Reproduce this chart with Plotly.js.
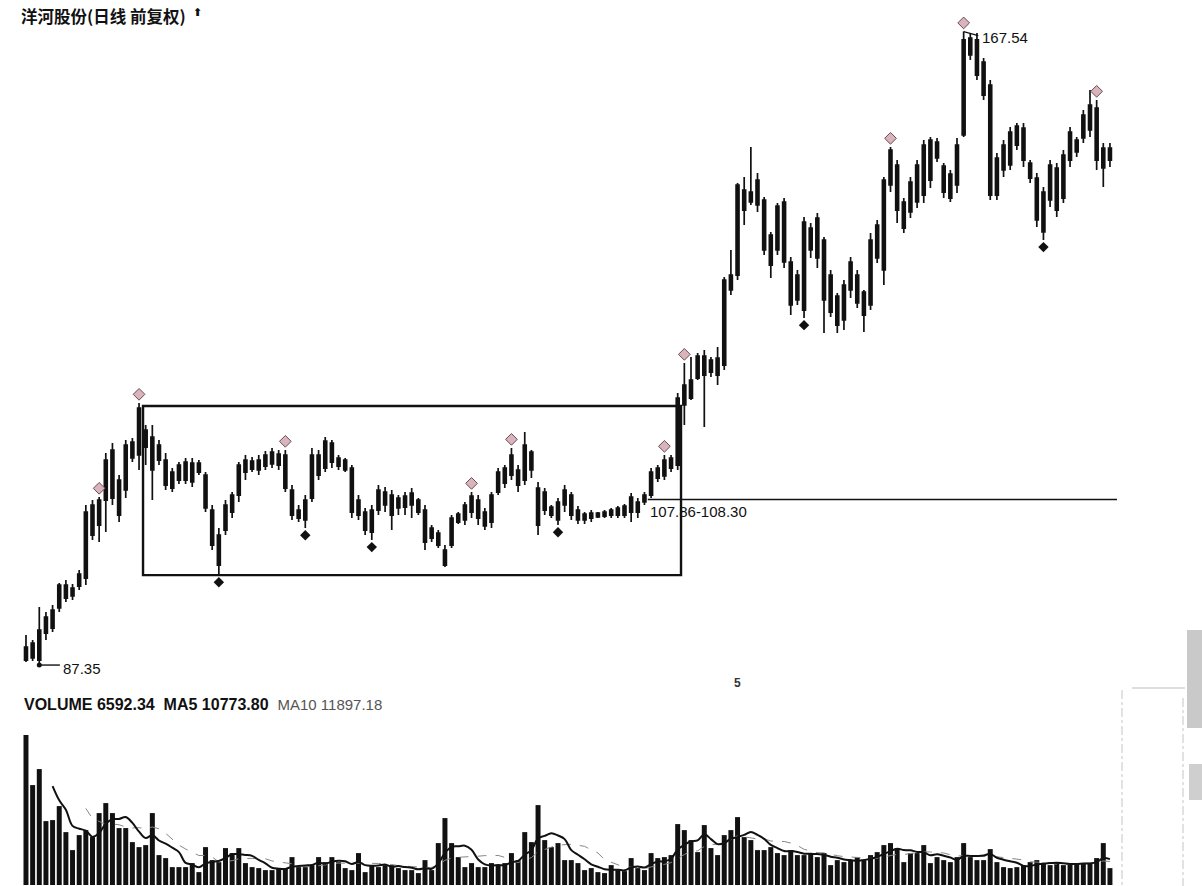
<!DOCTYPE html>
<html><head><meta charset="utf-8">
<script src="https://cdn.plot.ly/plotly-3.0.1.min.js"></script>
<style>html,body{margin:0;padding:0;background:#fff}#chart{width:1202px;height:886px}</style>
</head><body><div id="chart"></div>
<script>
const opens = [87.98,90.14,87.98,91.40,92.03,94.57,97.48,96.09,97.35,98.36,
107.61,105.07,108.24,114.57,106.34,109.51,115.58,113.94,117.10,116.22,
115.20,113.30,109.76,110.77,113.05,110.52,112.92,111.40,106.97,103.81,
104.44,106.72,108.87,111.78,113.18,112.04,112.54,114.32,112.67,113.94,
109.51,105.96,105.71,108.49,113.94,112.29,115.46,113.56,113.30,112.29,
108.24,106.72,104.19,106.97,109.25,106.34,107.23,108.75,107.61,108.24,
106.97,103.43,104.06,100.01,102.54,106.47,105.71,106.72,108.24,104.95,
105.45,109.25,110.39,111.40,112.04,110.77,114.32,109.76,106.97,107.35,
107.99,107.61,108.87,105.71,106.47,105.96,106.09,106.72,106.34,106.34,
107.48,106.72,107.99,107.99,108.87,111.02,113.30,112.29,112.67,120.27,
123.43,123.68,126.47,124.44,126.22,125.33,136.72,136.72,144.95,145.97,
148.75,146.22,141.79,139.89,145.97,138.37,133.56,143.43,139.89,143.94,
141.16,136.72,130.39,131.03,134.83,136.72,131.66,132.93,138.88,137.36,
148.12,150.65,145.97,144.70,145.97,153.18,148.75,153.56,150.52,149.51,
148.12,154.45,166.73,162.04,163.69,160.78,146.85,150.02,150.65,155.59,
155.33,150.90,149.00,147.23,146.22,150.27,146.47,151.28,153.82,154.07,
155.08,157.87,152.80,151.28];
const highs = [91.15,90.52,94.69,94.06,94.95,97.73,98.11,97.61,99.38,107.61,
108.24,108.62,114.19,115.46,111.40,115.84,116.09,120.52,117.73,117.73,
115.84,114.19,112.29,113.05,113.56,113.56,113.30,111.78,107.61,104.69,
108.24,109.25,113.05,113.94,113.68,113.94,114.44,114.82,114.57,114.57,
110.14,107.61,108.87,114.82,114.57,116.22,115.84,113.94,113.56,112.67,
108.87,107.23,107.61,110.14,109.89,109.51,108.87,109.25,109.76,108.49,
107.61,105.07,104.44,102.54,106.34,106.72,107.99,109.25,108.87,107.23,
109.25,112.29,112.67,114.82,112.67,116.85,114.57,110.52,109.76,107.61,
108.49,110.14,109.25,107.48,106.72,106.97,106.72,106.97,107.23,107.48,
107.73,109.13,108.49,109.25,112.29,112.67,113.94,113.94,121.79,125.58,
126.34,126.85,127.23,126.34,127.61,136.47,139.89,148.37,149.13,152.93,
149.64,146.60,142.17,145.84,146.47,139.00,137.36,144.07,143.31,144.57,
141.54,137.36,134.45,136.09,139.00,137.36,134.83,142.04,143.69,149.13,
152.93,151.28,146.47,149.13,151.28,153.82,154.20,154.07,150.90,150.02,
154.07,167.54,167.36,167.36,164.20,161.41,152.17,153.82,155.46,155.97,
155.97,151.28,149.64,147.87,151.28,150.90,152.55,155.46,154.20,157.61,
160.15,158.88,153.44,153.44];
const lows = [87.73,87.86,87.35,90.52,91.53,94.06,95.33,95.58,96.85,97.48,
103.18,102.92,104.19,107.61,105.45,108.49,113.05,112.04,112.67,108.24,
112.67,109.51,109.25,110.27,110.27,109.89,111.40,106.72,101.91,98.74,
103.81,105.96,107.99,110.77,111.78,111.40,112.04,112.29,112.04,109.25,
105.71,105.45,104.69,107.99,110.77,111.78,112.29,112.04,111.78,105.96,
105.71,103.81,103.18,106.34,106.72,104.44,106.34,106.34,105.96,106.34,
101.91,102.92,102.16,99.76,102.16,105.20,105.07,105.96,105.07,104.44,
104.69,108.87,109.76,110.77,109.25,110.14,111.02,103.81,106.34,105.96,
105.07,106.72,105.71,105.20,105.20,105.45,105.96,105.96,105.96,105.96,
105.96,105.45,105.96,107.61,108.49,110.52,110.77,111.78,112.04,117.73,
120.89,123.43,117.48,123.81,122.80,124.70,134.19,136.09,143.05,145.59,
144.70,139.26,136.34,139.26,137.61,131.66,132.93,131.28,138.88,137.61,
129.38,131.41,129.38,129.76,133.81,132.55,129.51,132.29,138.24,135.46,
147.23,143.31,142.04,143.94,145.21,145.84,147.74,151.03,146.47,145.97,
147.11,154.20,163.94,161.41,158.88,146.22,146.22,149.13,150.02,152.55,
150.40,148.37,142.80,141.16,145.33,144.07,145.84,150.40,151.66,153.44,
154.20,150.02,147.87,150.40];
const closes = [89.63,88.24,91.78,93.43,94.31,97.48,95.83,97.10,98.87,106.72,
103.81,108.24,113.30,108.49,110.77,115.20,113.56,119.89,114.95,112.04,
113.30,110.14,111.78,112.67,110.77,112.92,111.78,107.23,102.54,100.01,
107.61,108.87,112.67,113.30,112.16,113.30,113.94,112.80,114.06,109.76,
106.34,106.97,108.24,113.94,111.40,115.71,113.05,112.54,112.04,106.72,
106.34,104.44,106.97,109.51,107.61,108.87,108.49,107.35,109.13,106.72,
102.92,104.69,102.54,101.91,105.96,105.45,107.61,108.75,105.96,106.72,
108.87,111.78,112.29,113.94,110.14,115.20,112.04,105.07,109.25,106.34,
105.71,109.51,106.34,106.97,105.71,106.59,106.59,106.21,106.97,107.23,
106.34,108.62,106.72,108.87,111.78,112.29,111.28,113.56,121.15,122.80,
121.15,126.47,124.06,125.96,124.06,136.09,134.83,148.12,147.49,147.23,
145.59,139.89,137.99,145.46,138.37,132.93,136.72,132.29,142.67,138.88,
133.56,132.04,134.07,135.46,138.37,133.18,134.57,141.16,143.05,148.75,
152.55,144.95,142.67,148.50,150.65,146.85,153.82,151.54,147.23,146.47,
153.18,166.48,164.58,166.48,159.51,146.85,151.54,153.18,154.83,153.18,
151.28,149.00,143.69,142.17,150.65,144.95,151.92,154.83,152.30,156.98,
158.25,151.28,150.27,152.80];
const volumes = [58200,38800,45010,24830,25220,30650,20560,13580,19400,21340,
18620,27940,31820,27940,22120,22120,16680,14740,15520,27940,
11640,10480,6980,6980,6980,8540,5040,14740,9700,8920,
14360,12420,14360,8540,6980,6600,5820,5820,6600,6600,
10860,6980,6980,7760,10860,8920,10860,8920,6600,5820,
12420,5040,7760,6980,7760,7760,6600,5820,5820,4660,
9700,5820,16300,26000,16300,10860,6980,8540,6980,6980,
8540,7760,8540,12420,9700,20560,16680,31040,17460,14740,
16300,9700,9700,8540,5820,6600,5040,4660,7760,5820,
5430,10480,6600,5820,12420,10480,10860,11640,23670,21340,
17460,12800,23280,14360,11640,19400,21340,26380,18620,17460,
13580,13580,14740,12420,11640,13580,11640,11640,12420,10860,
12420,7760,9700,8920,9700,10860,9700,11640,12800,15520,
16300,14360,8920,12420,12420,15520,8540,10860,9700,8920,
10860,16300,10860,9700,9700,13970,8920,6980,6600,6980,
7760,8920,9700,8540,7760,8540,7760,8540,8540,8540,
8540,10480,16300,6592.34];

const peakIdx = [11,17,39,67,73,96,99,130,141,161];
const troughIdx = [29,42,52,80,117,153];
const lowMark = {idx: 2, value: 87.35, text: "87.35"};
const highMark = {idx: 141, value: 167.54, text: "167.54"};
const breakLevel = 108.30;
const breakText = "107.86-108.30";
const boxLow = 98.74, boxHigh = 120.14;
const boxStart = 17.6, boxEnd = 98.5;
const titleText = "洋河股份(日线 前复权)";
const volText = "VOLUME 6592.34  MA5 10773.80  ";
const ma10Text = "MA10 11897.18";

const idx = opens.map((_, i) => i);
function ma(arr, n) {
  return arr.map((_, i) => {
    if (i < n - 1) return null;
    let s = 0; for (let k = i - n + 1; k <= i; k++) s += arr[k];
    return s / n;
  });
}
const ma5 = ma(volumes, 5), ma10 = ma(volumes, 10);

const XMAX = 164.06;
const ink = '#111';
const traces = [
  {type: 'candlestick', x: idx, open: opens, high: highs, low: lows, close: closes,
   xaxis: 'x', yaxis: 'y', whiskerwidth: 0, hoverinfo: 'skip',
   increasing: {line: {color: ink, width: 1.7}, fillcolor: ink},
   decreasing: {line: {color: ink, width: 1.7}, fillcolor: ink}},
  {type: 'bar', x: idx, y: volumes, xaxis: 'x', yaxis: 'y2', hoverinfo: 'skip',
   marker: {color: ink, line: {width: 0}}},
  {type: 'scatter', mode: 'lines', x: idx, y: ma10, xaxis: 'x', yaxis: 'y2', hoverinfo: 'skip',
   line: {color: '#888', width: 1, dash: 'dash'}},
  {type: 'scatter', mode: 'lines', x: idx, y: ma5, xaxis: 'x', yaxis: 'y2', hoverinfo: 'skip',
   line: {color: ink, width: 2, shape: 'spline'}},
  {type: 'scatter', mode: 'markers', x: peakIdx, y: peakIdx.map(i => highs[i] + 1.1),
   xaxis: 'x', yaxis: 'y', hoverinfo: 'skip',
   marker: {symbol: 'diamond', size: 9, color: '#d9b4bc', line: {color: '#6b4a52', width: 1}}},
  {type: 'scatter', mode: 'markers', x: troughIdx, y: troughIdx.map(i => lows[i] - 0.9),
   xaxis: 'x', yaxis: 'y', hoverinfo: 'skip',
   marker: {symbol: 'diamond', size: 8, color: ink}},
  {type: 'scatter', mode: 'markers', x: [lowMark.idx], y: [lowMark.value],
   xaxis: 'x', yaxis: 'y', hoverinfo: 'skip', marker: {symbol: 'circle', size: 5, color: ink}}
];

function px(x) { return (x - 22) / 1095; }
function py(y) { return 1 - y / 886; }

const shapes = [
  {type: 'rect', xref: 'x', yref: 'y', x0: boxStart, x1: boxEnd, y0: boxLow, y1: boxHigh,
   line: {color: ink, width: 2.4}},
  {type: 'line', xref: 'x', yref: 'y', x0: 93.5, x1: XMAX, y0: breakLevel, y1: breakLevel,
   line: {color: ink, width: 1.6}},
  {type: 'line', xref: 'x', yref: 'y', x0: lowMark.idx, x1: lowMark.idx + 3.1, y0: lowMark.value, y1: lowMark.value,
   line: {color: ink, width: 1.4}},
  {type: 'line', xref: 'x', yref: 'y', x0: highMark.idx, x1: highMark.idx + 2.2, y0: highMark.value, y1: highMark.value - 0.5,
   line: {color: ink, width: 1.3}},
  {type: 'line', xref: 'paper', yref: 'paper', x0: px(1122), x1: px(1122), y0: py(690), y1: py(886),
   line: {color: '#c4c4c4', width: 1, dash: 'dashdot'}},
  {type: 'line', xref: 'paper', yref: 'paper', x0: px(1132), x1: px(1185), y0: py(688), y1: py(688),
   line: {color: '#bdbdbd', width: 1}},
  {type: 'line', xref: 'paper', yref: 'paper', x0: px(1183), x1: px(1183), y0: py(698), y1: py(886),
   line: {color: '#c4c4c4', width: 1, dash: 'dashdot'}},
  {type: 'rect', xref: 'paper', yref: 'paper', x0: px(1187), x1: px(1202), y0: py(728), y1: py(630),
   fillcolor: '#c9c9c9', line: {width: 0}},
  {type: 'rect', xref: 'paper', yref: 'paper', x0: px(1189), x1: px(1202), y0: py(800), y1: py(764),
   fillcolor: '#cfcfcf', line: {width: 0}}
];

const numFont = {family: 'Liberation Sans, Arial, sans-serif', size: 15, color: ink};
const annotations = [
  {xref: 'paper', yref: 'paper', x: px(19), y: py(16), xanchor: 'left', yanchor: 'middle', showarrow: false,
   text: '<b>' + titleText + '</b>', font: {family: 'Noto Sans CJK SC, sans-serif', size: 16.5, color: ink}},
  {xref: 'paper', yref: 'paper', x: px(197), y: py(12), xanchor: 'center', yanchor: 'middle', showarrow: false,
   text: '<b>⬆</b>', font: {family: 'DejaVu Sans, sans-serif', size: 11, color: ink}},
  {xref: 'x', yref: 'y', x: lowMark.idx + 3.2, y: lowMark.value - 0.4, xanchor: 'left', yanchor: 'middle', showarrow: false,
   text: lowMark.text, font: numFont},
  {xref: 'x', yref: 'y', x: highMark.idx + 2.4, y: highMark.value - 0.8, xanchor: 'left', yanchor: 'middle', showarrow: false,
   text: highMark.text, font: numFont},
  {xref: 'x', yref: 'y', x: 93.5, y: 106.85, xanchor: 'left', yanchor: 'middle', showarrow: false,
   text: breakText, font: numFont},
  {xref: 'paper', yref: 'paper', x: px(737), y: py(683), xanchor: 'center', yanchor: 'middle', showarrow: false,
   text: '<b>5</b>', font: {family: 'Liberation Sans, Arial, sans-serif', size: 12, color: '#333'}},
  {xref: 'paper', yref: 'paper', x: px(22), y: py(704), xanchor: 'left', yanchor: 'middle', showarrow: false,
   text: '<b>' + volText + '</b><span style="color:#555;font-size:15px">' + ma10Text + '</span>',
   font: {family: 'Liberation Sans, Arial, sans-serif', size: 16, color: ink}}
];

const layout = {
  width: 1202, height: 886, margin: {l: 22, r: 85, t: 0, b: 0, pad: 0},
  paper_bgcolor: '#fff', plot_bgcolor: '#fff', showlegend: false, hovermode: false,
  boxgap: 0.38, bargap: 0.25,
  xaxis: {range: [-0.6, XMAX], visible: false, showgrid: false, zeroline: false, rangeslider: {visible: false}, fixedrange: true},
  yaxis: {domain: [0.2212, 1], range: [84.19, 171.54], visible: false, showgrid: false, zeroline: false, fixedrange: true},
  yaxis2: {domain: [0.001, 0.19], range: [0, 64950], visible: false, showgrid: false, zeroline: false, anchor: 'x', fixedrange: true},
  shapes: shapes, annotations: annotations
};
Plotly.newPlot('chart', traces, layout, {displayModeBar: false, staticPlot: true});
</script></body></html>
